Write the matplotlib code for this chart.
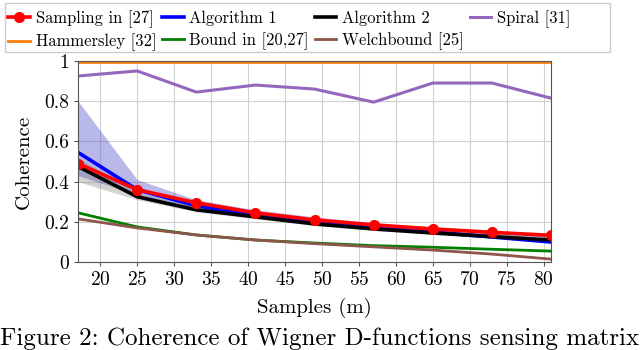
import matplotlib
matplotlib.use("Agg")
import matplotlib.pyplot as plt
from matplotlib.patches import Rectangle

plt.rcParams['font.family'] = ['cmr10', 'DejaVu Serif']
plt.rcParams['mathtext.fontset'] = 'cm'
plt.rcParams['axes.formatter.use_mathtext'] = True

samples = [17, 25, 33, 41, 49, 57, 65, 73, 81]
sampling27 = [0.49, 0.36, 0.295, 0.245, 0.21, 0.185, 0.165, 0.148, 0.133]
algo1 = [0.545, 0.36, 0.28, 0.235, 0.2, 0.175, 0.15, 0.125, 0.10]
algo1_hi = [0.80, 0.41, 0.31, 0.26, 0.225, 0.195, 0.17, 0.15, 0.13]
algo1_lo = [0.43, 0.335, 0.265, 0.222, 0.19, 0.165, 0.142, 0.12, 0.095]
algo2 = [0.475, 0.325, 0.26, 0.225, 0.19, 0.165, 0.145, 0.127, 0.11]
algo2_hi = [0.52, 0.345, 0.275, 0.235, 0.2, 0.175, 0.155, 0.135, 0.118]
algo2_lo = [0.40, 0.31, 0.25, 0.215, 0.182, 0.158, 0.138, 0.12, 0.104]
spiral = [0.925, 0.95, 0.845, 0.88, 0.86, 0.795, 0.89, 0.89, 0.815]
hammersley = [0.995] * 9
bound2027 = [0.245, 0.175, 0.135, 0.11, 0.095, 0.082, 0.074, 0.064, 0.055]
welch = [0.215, 0.17, 0.135, 0.11, 0.092, 0.076, 0.06, 0.04, 0.015]

fig = plt.figure(figsize=(6.4, 3.5), dpi=100)
ax = fig.add_axes([0.122, 0.251, 0.739, 0.575])

# spread of the random runs
ax.fill_between(samples, algo1_lo, algo1_hi, color='#5050c8', alpha=0.4, lw=0)
ax.fill_between(samples, algo2_lo, algo2_hi, color='#707070', alpha=0.3, lw=0)
ax.fill_between(samples, [v - 0.005 for v in sampling27], [v + 0.012 for v in sampling27],
                color='#ff8080', alpha=0.3, lw=0)

l_ham, = ax.plot(samples, hammersley, color='#ff7f0e', lw=2)
l_sp, = ax.plot(samples, spiral, color='#9467bd', lw=2.2)
l_bd, = ax.plot(samples, bound2027, color='#007f00', lw=2)
l_we, = ax.plot(samples, welch, color='#8c564b', lw=2)
l_a1, = ax.plot(samples, algo1, color='#0000ff', lw=2.6)
l_a2, = ax.plot(samples, algo2, color='black', lw=2.6)
l_sa, = ax.plot(samples, sampling27, color='#ff0000', lw=2.6, marker='o', ms=7)

ax.set_xlim(17, 81)
ax.set_ylim(0, 1)
ax.set_xticks(range(20, 81, 5))
ax.set_yticks([0, 0.2, 0.4, 0.6, 0.8, 1])
ax.set_yticklabels(['0', '0.2', '0.4', '0.6', '0.8', '1'])
ax.grid(True, color='#d0d0d0', lw=0.8)
ax.set_axisbelow(True)
for s in ax.spines.values():
    s.set_color('#555555')
ax.tick_params(labelsize=14, color='#555555', length=3)
ax.set_xlabel('Samples (m)', fontsize=15, labelpad=6)
ax.set_ylabel('Coherence', fontsize=15, labelpad=8)

handles = [l_sa, l_a1, l_a2, l_sp, l_ham, l_bd, l_we]
labels = ['Sampling in [27]', 'Algorithm 1', 'Algorithm 2', 'Spiral [31]',
          'Hammersley [32]', 'Bound in [20,27]', 'Welchbound [25]']
order = [0, 4, 1, 5, 2, 6, 3]
fig.legend([handles[i] for i in order], [labels[i] for i in order], ncol=4,
           loc='upper left', bbox_to_anchor=(0.008, 0.98),
           fontsize=11.9, frameon=False, handlelength=1.3, handletextpad=0.35,
           columnspacing=0.35, borderpad=0.2, labelspacing=0.35, borderaxespad=0)
# legend frame, as wide as in the original
fig.patches.append(Rectangle((0.008, 0.852), 0.945, 0.14, transform=fig.transFigure,
                             fill=False, edgecolor='#cccccc', lw=1))

fig.text(0.5, 0.015, 'Figure 2: Coherence of Wigner D-functions sensing matrix',
         ha='center', fontsize=18)

fig.savefig('out.png', dpi=100)
